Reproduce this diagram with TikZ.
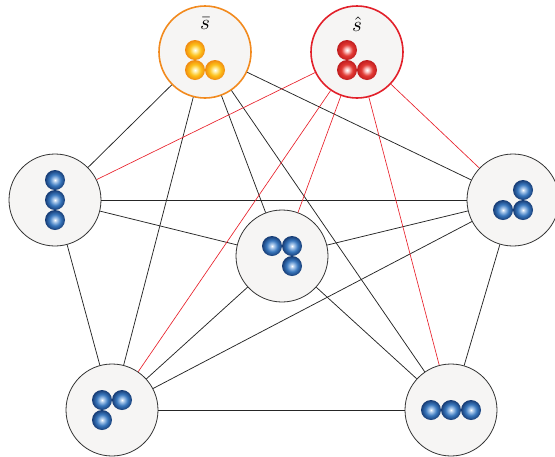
\documentclass[tikz,border=0pt]{standalone}
\usepackage{amssymb}
\usepackage{tikz}
\usepackage{xcolor}
\usetikzlibrary{positioning}

\definecolor{nodefill}{HTML}{F6F5F4}
\definecolor{nodeline}{HTML}{333333}
\definecolor{sbarline}{HTML}{F28A1E}
\definecolor{shatline}{HTML}{E2202A}
\definecolor{linkred}{HTML}{E8202A}
\definecolor{blueA}{HTML}{B8D2F0}
\definecolor{blueB}{HTML}{3A78BE}
\definecolor{blueC}{HTML}{163B74}
\definecolor{orangeA}{HTML}{FFF4B8}
\definecolor{orangeB}{HTML}{FDC11A}
\definecolor{orangeC}{HTML}{F08A10}
\definecolor{redA}{HTML}{FFD6D6}
\definecolor{redB}{HTML}{E23A34}
\definecolor{redC}{HTML}{C01C1E}

\pgfdeclareradialshading{blueball}{\pgfpoint{0bp}{0bp}}{color(0bp)=(white); color(4bp)=(blueA); color(14bp)=(blueB); color(25bp)=(blueC); color(50bp)=(blueC)}
\pgfdeclareradialshading{orangeball}{\pgfpoint{0bp}{0bp}}{color(0bp)=(white); color(4bp)=(orangeA); color(14bp)=(orangeB); color(25bp)=(orangeC); color(50bp)=(orangeC)}
\pgfdeclareradialshading{redball}{\pgfpoint{0bp}{0bp}}{color(0bp)=(white); color(4bp)=(redA); color(14bp)=(redB); color(25bp)=(redC); color(50bp)=(redC)}

\tikzset{
    config/.style={circle, draw=nodeline, fill=nodefill, line width=0.8pt, minimum size=92pt, inner sep=0pt},
    link/.style={draw=black!85, line width=0.75pt},
    redlink/.style={draw=linkred, line width=0.65pt}
}

\begin{document}
\begin{tikzpicture}[x=1pt, y=-1pt]
                        \useasboundingbox (0, 0) rectangle (555, 456);

                        \node[config, draw=sbarline, line width=1.6pt] (sbar) at (205, 52) {};
                        \node[config, draw=shatline, line width=1.6pt] (shat) at (357, 52) {};
                        \node[config] (left) at (55, 200) {};
                        \node[config] (right) at (513, 200) {};
                        \node[config] (cen) at (282, 256) {};
                        \node[config] (bl) at (112, 410) {};
                        \node[config] (br) at (451, 410) {};

                        \node[scale=2.1] (sbartext) at (205, 24) {$\bar{s}$};
                        \node[scale=2.1] (shattext) at (357, 24) {$\hat{s}$};

                        \shade[shading=orangeball] ([shift={(-10, -2)}]sbar.center) circle (10pt);
                        \shade[shading=orangeball] ([shift={(-10, 18)}]sbar.center) circle (10pt);
                        \shade[shading=orangeball] ([shift={(10, 18)}]sbar.center) circle (10pt);

                        \shade[shading=redball] ([shift={(-10, -2)}]shat.center) circle (10pt);
                        \shade[shading=redball] ([shift={(-10, 18)}]shat.center) circle (10pt);
                        \shade[shading=redball] ([shift={(10, 18)}]shat.center) circle (10pt);

                        \shade[shading=blueball] ([shift={(0, -20)}]left.center) circle (10pt);
                        \shade[shading=blueball] ([shift={(0, 0)}]left.center) circle (10pt);
                        \shade[shading=blueball] ([shift={(0, 20)}]left.center) circle (10pt);

                        \shade[shading=blueball] ([shift={(10, -10)}]right.center) circle (10pt);
                        \shade[shading=blueball] ([shift={(-10, 10)}]right.center) circle (10pt);
                        \shade[shading=blueball] ([shift={(10, 10)}]right.center) circle (10pt);

                        \shade[shading=blueball] ([shift={(-10, -10)}]cen.center) circle (10pt);
                        \shade[shading=blueball] ([shift={(10, -10)}]cen.center) circle (10pt);
                        \shade[shading=blueball] ([shift={(10, 10)}]cen.center) circle (10pt);

                        \shade[shading=blueball] ([shift={(-10, -10)}]bl.center) circle (10pt);
                        \shade[shading=blueball] ([shift={(10, -10)}]bl.center) circle (10pt);
                        \shade[shading=blueball] ([shift={(-10, 10)}]bl.center) circle (10pt);

                        \shade[shading=blueball] ([shift={(-20, 0)}]br.center) circle (10pt);
                        \shade[shading=blueball] ([shift={(0, 0)}]br.center) circle (10pt);
                        \shade[shading=blueball] ([shift={(20, 0)}]br.center) circle (10pt);

                        \draw[link]
                        (sbar) edge (left)
                        (sbar) edge (bl)
                        (sbar) edge (cen)
                        (sbar) edge (br)
                        (sbar) edge (right)
                        (left) edge (right)
                        (left) edge (cen)
                        (left) edge (bl)
                        (right) edge (cen)
                        (right) edge (bl)
                        (right) edge (br)
                        (cen) edge (bl)
                        (cen) edge (br)
                        (bl) edge (br);

                        \draw[redlink]
                        (shat) edge (left)
                        (shat) edge (bl)
                        (shat) edge (cen)
                        (shat) edge (br)
                        (shat) edge (right);
                    \end{tikzpicture}
\end{document}
